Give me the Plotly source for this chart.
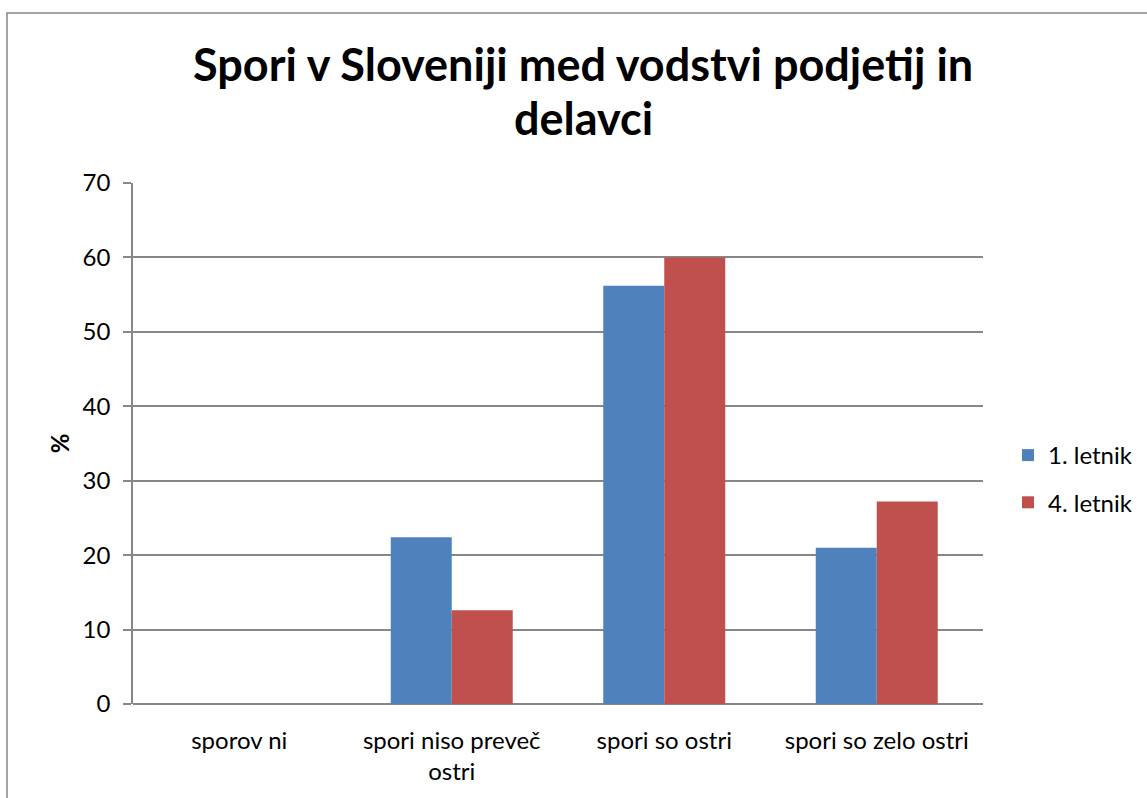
import plotly.graph_objects as go

categories = ["sporov ni", "spori niso preveč<br>ostri", "spori so ostri", "spori so zelo ostri"]
series_names = ["1. letnik", "4. letnik"]
letnik1 = [0, 22.4, 56.2, 21.0]
letnik4 = [0, 12.6, 60.0, 27.2]
y_ticks = [0, 10, 20, 30, 40, 50, 60, 70]
title_lines = ["Spori v Sloveniji med vodstvi podjetij in", "delavci"]

colors = ["#4F81BD", "#C0504D"]
FONT = "Lato"
GRID = "#878787"

# plot area in pixels
L, R, T, B = 133, 983, 183, 704
W, H = R - L, B - T

def px_x(x):
    return (x - L) / W

def px_y(y):
    return (B - y) / H

fig = go.Figure()
for name, vals, col, grp in [(series_names[0], letnik1, colors[0], "a"),
                             (series_names[1], letnik4, colors[1], "b")]:
    fig.add_trace(go.Bar(
        x=categories, y=vals, name=name, legendgroup=grp,
        marker=dict(color=col, line=dict(width=0)),
    ))

fig.update_layout(
    width=1147, height=798,
    margin=dict(l=L, r=1147 - R, t=T, b=798 - B, autoexpand=False),
    paper_bgcolor="white", plot_bgcolor="white",
    barmode="group", bargap=0.426, bargroupgap=0,
    font=dict(family=FONT, size=24, color="black"),
    showlegend=True,
    legend=dict(x=px_x(1008), y=px_y(479), xanchor="left", yanchor="middle",
                font=dict(family=FONT, size=24, color="black"),
                tracegroupgap=13, bgcolor="rgba(0,0,0,0)", borderwidth=0),
    xaxis=dict(showline=False, ticks="", showgrid=False, zeroline=False,
               tickfont=dict(family=FONT, size=24), ticklabelstandoff=20),
    yaxis=dict(range=[0, 70], tickvals=y_ticks, showgrid=True, gridcolor=GRID,
               gridwidth=1.5, showline=True, linecolor=GRID, linewidth=1.5,
               ticks="outside", ticklen=8, tickcolor=GRID, tickwidth=1.5,
               zeroline=True, zerolinecolor=GRID, zerolinewidth=1.5,
               tickfont=dict(family=FONT, size=24), ticklabelstandoff=8,
               title=dict(text="<b>%</b>", font=dict(family=FONT, size=24), standoff=6)),
    annotations=[
        dict(text="<b>" + title_lines[0] + "</b>", xref="paper", yref="paper",
             x=px_x(582.5), y=px_y(35), xanchor="center", yanchor="top", showarrow=False,
             font=dict(family=FONT, size=45, color="black")),
        dict(text="<b>" + title_lines[1] + "</b>", xref="paper", yref="paper",
             x=px_x(583.5), y=px_y(89), xanchor="center", yanchor="top", showarrow=False,
             font=dict(family=FONT, size=45, color="black")),
    ],
    shapes=[dict(type="rect", xref="paper", yref="paper",
                 x0=px_x(7), x1=px_x(1250), y0=px_y(900), y1=px_y(13),
                 line=dict(color=GRID, width=1.5), fillcolor="rgba(0,0,0,0)", layer="below")],
)

fig.write_html("out.html", config={"displayModeBar": False},
               post_script="document.body.style.margin='0';document.body.style.overflow='hidden';")
